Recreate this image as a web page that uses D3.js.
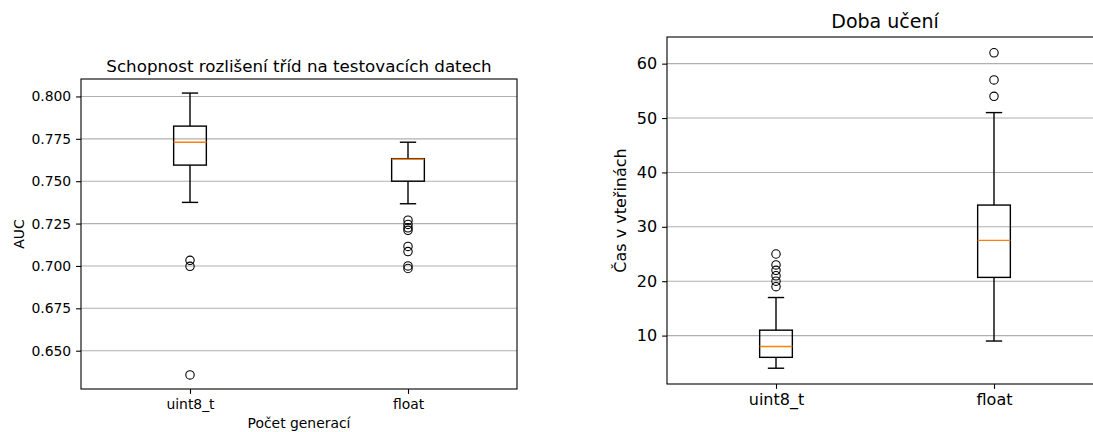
<!DOCTYPE html>
<html>
<head>
<meta charset="utf-8">
<script src="https://cdn.jsdelivr.net/npm/d3@7"></script>
<style>
  body { margin: 0; background: #fff; }
  svg { display: block; font-family: "DejaVu Sans", sans-serif; }
</style>
</head>
<body>
<svg id="chart" width="1093" height="432"></svg>
<script>
const categories = ["uint8_t", "float"];

// box stats: [lower whisker, q1, median, q3, upper whisker]
const aucStats = [
  [0.7375, 0.7595, 0.773, 0.7825, 0.802],
  [0.7367, 0.75, 0.763, 0.7633, 0.773]
];
const aucOutliers = [
  [0.7033, 0.6998, 0.6357],
  [0.727, 0.7245, 0.7225, 0.721, 0.7115, 0.7085, 0.7, 0.6985]
];
const aucTicks = [0.65, 0.675, 0.7, 0.725, 0.75, 0.775, 0.8];

const timeStats = [
  [4, 6, 8, 11, 17],
  [9, 20.7, 27.5, 34, 51]
];
const timeOutliers = [
  [25, 23, 22, 21, 20, 19],
  [62, 57, 54]
];
const timeTicks = [10, 20, 30, 40, 50, 60];

const svg = d3.select("#chart");

function boxPanel(opts) {
  const { left, right, top, bottom, domain, stats, outliers, ticks, fmt,
    title, yLabel, fs, titleFs } = opts;

  const x = d3.scaleLinear().domain([0.5, 2.5]).range([left, right]);
  const y = d3.scaleLinear().domain(domain).range([bottom, top]);
  const g = svg.append("g");

  // grid
  g.append("g")
    .selectAll("line")
    .data(ticks)
    .join("line")
    .attr("x1", left).attr("x2", right)
    .attr("y1", d => y(d)).attr("y2", d => y(d))
    .attr("stroke", "#b0b0b0")
    .attr("stroke-width", 1.1);

  const yAxis = d3.axisLeft(y).tickValues(ticks).tickFormat(fmt).tickSize(4.9).tickPadding(4.9);
  g.append("g")
    .attr("transform", `translate(${left},0)`)
    .call(yAxis)
    .call(a => a.select(".domain").remove())
    .call(a => a.selectAll("line").attr("stroke", "#000").attr("stroke-width", 1.1))
    .call(a => a.selectAll("text").attr("font-size", fs).attr("font-family", "DejaVu Sans").attr("fill", "#000"));

  const xAxis = d3.axisBottom(x).tickValues([1, 2]).tickFormat(i => categories[i - 1]).tickSize(4.9).tickPadding(4.9);
  g.append("g")
    .attr("transform", `translate(0,${bottom})`)
    .call(xAxis)
    .call(a => a.select(".domain").remove())
    .call(a => a.selectAll("line").attr("stroke", "#000").attr("stroke-width", 1.1))
    .call(a => a.selectAll("text").attr("font-size", fs).attr("font-family", "DejaVu Sans").attr("fill", "#000"));

  const halfW = (x(1.075) - x(1));
  const capW = halfW / 2;

  const box = g.append("g")
    .selectAll("g")
    .data(stats)
    .join("g")
    .attr("transform", (d, i) => `translate(${x(i + 1)},0)`);

  box.append("line")
    .attr("y1", d => y(d[0])).attr("y2", d => y(d[1]))
    .attr("stroke", "#000").attr("stroke-width", 1.4);
  box.append("line")
    .attr("y1", d => y(d[3])).attr("y2", d => y(d[4]))
    .attr("stroke", "#000").attr("stroke-width", 1.4);
  box.append("line")
    .attr("x1", -capW).attr("x2", capW)
    .attr("y1", d => y(d[0])).attr("y2", d => y(d[0]))
    .attr("stroke", "#000").attr("stroke-width", 1.4);
  box.append("line")
    .attr("x1", -capW).attr("x2", capW)
    .attr("y1", d => y(d[4])).attr("y2", d => y(d[4]))
    .attr("stroke", "#000").attr("stroke-width", 1.4);
  box.append("rect")
    .attr("x", -halfW).attr("width", 2 * halfW)
    .attr("y", d => y(d[3])).attr("height", d => y(d[1]) - y(d[3]))
    .attr("fill", "none").attr("stroke", "#000").attr("stroke-width", 1.4);
  box.append("line")
    .attr("x1", -halfW).attr("x2", halfW)
    .attr("y1", d => y(d[2])).attr("y2", d => y(d[2]))
    .attr("stroke", "#ff7f0e").attr("stroke-width", 1.4);

  box.each(function(d, i) {
    d3.select(this).selectAll("circle")
      .data(outliers[i])
      .join("circle")
      .attr("cx", 0).attr("cy", v => y(v)).attr("r", 4.2)
      .attr("fill", "none").attr("stroke", "#000").attr("stroke-width", 1.1);
  });

  // spines
  g.append("rect")
    .attr("x", left).attr("y", top)
    .attr("width", right - left).attr("height", bottom - top)
    .attr("fill", "none").attr("stroke", "#000").attr("stroke-width", 1.1);

  g.append("text")
    .attr("x", (left + right) / 2).attr("y", opts.titleY)
    .attr("text-anchor", "middle").attr("font-size", titleFs)
    .text(title);

  if (opts.xLabel) {
    g.append("text")
      .attr("x", (left + right) / 2).attr("y", opts.xLabelY)
      .attr("text-anchor", "middle").attr("font-size", fs)
      .text(opts.xLabel);
  }
  g.append("text")
    .attr("transform", `translate(${opts.yLabelX},${(top + bottom) / 2}) rotate(-90)`)
    .attr("text-anchor", "middle").attr("font-size", fs)
    .text(yLabel);
}

boxPanel({
  left: 81, right: 517, top: 79, bottom: 389,
  domain: [0.6274, 0.8103],
  stats: aucStats, outliers: aucOutliers, ticks: aucTicks,
  fmt: d3.format(".3f"),
  title: "Schopnost rozlišení tříd na testovacích datech", titleY: 72,
  xLabel: "Počet generací", xLabelY: 428,
  yLabel: "AUC", yLabelX: 24,
  fs: 13.9, titleFs: 16.7
});

boxPanel({
  left: 667, right: 1103, top: 37, bottom: 384,
  domain: [1.1, 64.9],
  stats: timeStats, outliers: timeOutliers, ticks: timeTicks,
  fmt: d3.format("d"),
  title: "Doba učení", titleY: 28,
  yLabel: "Čas v vteřinách", yLabelX: 626,
  fs: 16, titleFs: 19
});
</script>
</body>
</html>
